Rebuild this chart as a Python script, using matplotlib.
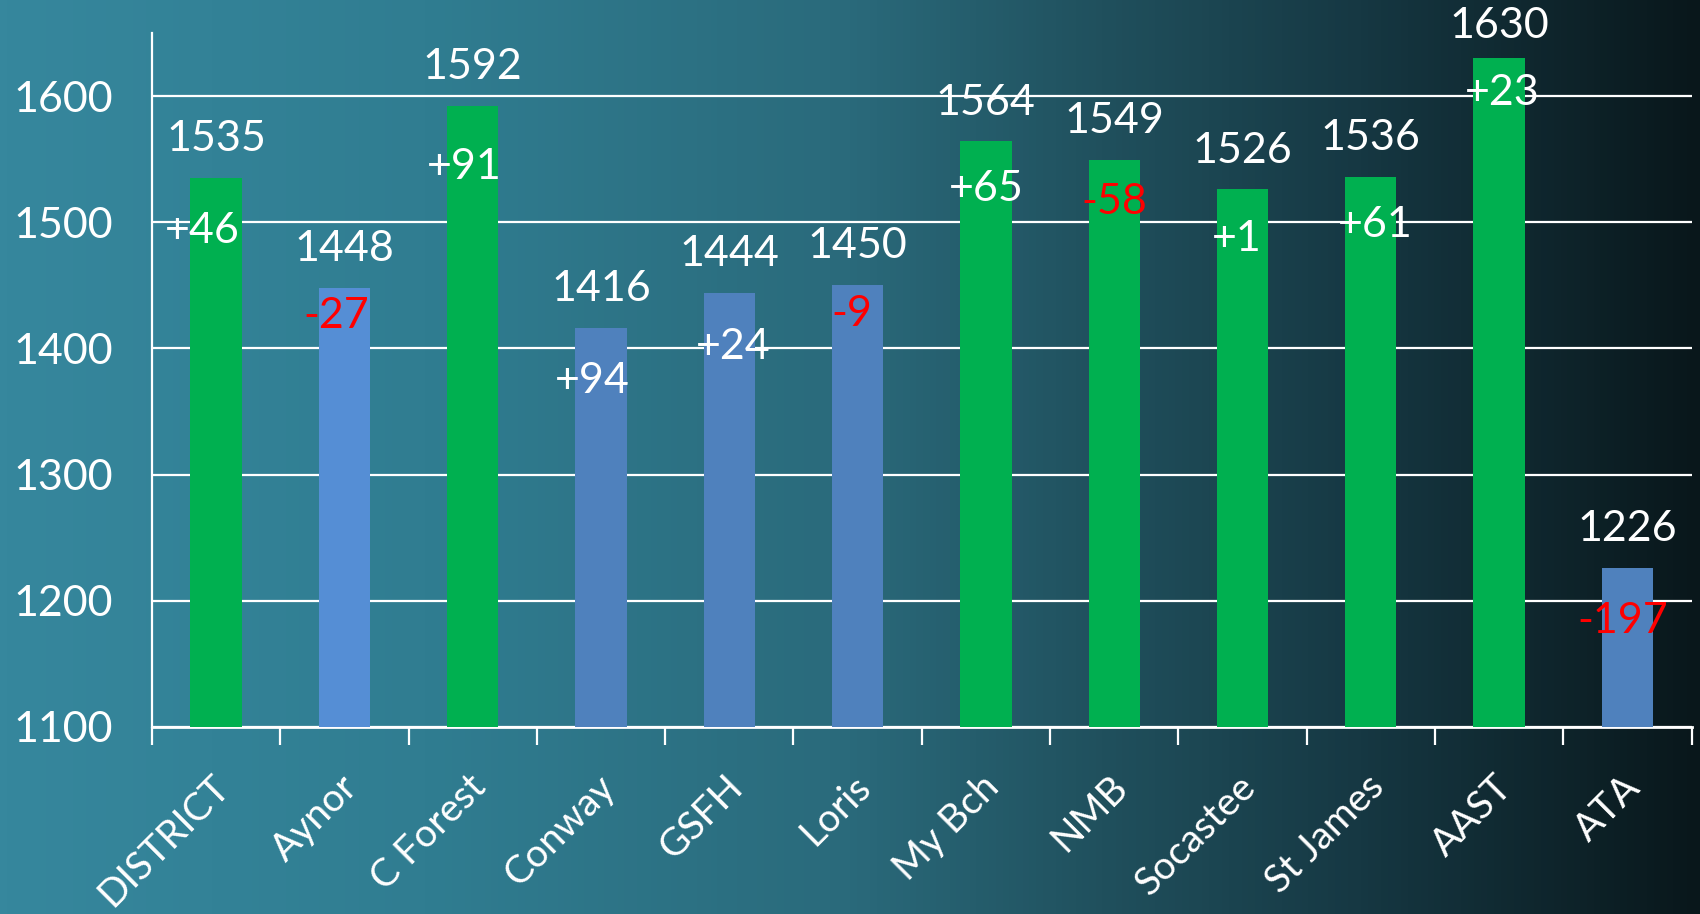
import numpy as np
import matplotlib as mpl; mpl.use('Agg')
import matplotlib.pyplot as plt
import matplotlib.transforms as mtransforms
from matplotlib.colors import LinearSegmentedColormap

mpl.rcParams['font.family'] = ['Lato', 'DejaVu Sans']

schools = ['DISTRICT', 'Aynor', 'C Forest', 'Conway', 'GSFH', 'Loris',
           'My Bch', 'NMB', 'Socastee', 'St James', 'AAST', 'ATA']
scores = [1535, 1448, 1592, 1416, 1444, 1450, 1564, 1549, 1526, 1536, 1630, 1226]
changes = [46, -27, 91, 94, 24, -9, 65, -58, 1, 61, 23, -197]
bar_kind = ['g', 'lb', 'g', 'b', 'b', 'b', 'g', 'g', 'g', 'g', 'g', 'b']

# label nudges (points) -- hand placed in the original
d_dx = [-10, -6, -6, -6, 3, -4, 0, 0, -4, 3, 2, -3]
d_dy = [-38, -20, -44, -38, -39, -21, -34, -30, -36, -35, -25, -38]
v_dy = [28, 28, 28, 28, 28, 28, 28, 28, 28, 28, 23, 28]

COL = {'g': '#00b050', 'lb': '#558ed5', 'b': '#4f81bd'}
WHITE = 'white'
FS = 31

fig = plt.figure(figsize=(17, 9.14), dpi=100)

# background gradient
bg = fig.add_axes([0, 0, 1, 1], zorder=-10)
cmap = LinearSegmentedColormap.from_list('bg', [(0.0, '#36879d'), (0.25, '#307d91'), (0.5, '#2a6a7b'),
                                                (0.65, '#20505d'), (0.8, '#163843'), (1.0, '#09171b')])
bg.imshow(np.linspace(0, 1, 512)[None, :], aspect='auto', cmap=cmap, extent=[0, 1, 0, 1])
bg.axis('off')

ax = fig.add_axes([0.0894, 0.2046, 0.9056, 0.7594])
ax.patch.set_alpha(0)
x = np.arange(len(schools))
ax.bar(x, [s - 1100 for s in scores], bottom=1100, width=0.40,
       color=[COL[k] for k in bar_kind], zorder=3)

ax.set_xlim(-0.5, len(schools) - 0.5)
ax.set_ylim(1100, 1650)
ax.set_yticks([1100, 1200, 1300, 1400, 1500, 1600])
ax.grid(axis='y', color=WHITE, lw=1.6, zorder=1)
for s in ['top', 'right']:
    ax.spines[s].set_visible(False)
ax.spines['left'].set_color(WHITE); ax.spines['left'].set_lw(1.6)
ax.spines['bottom'].set_color(WHITE); ax.spines['bottom'].set_lw(2.0)
ax.tick_params(axis='y', colors=WHITE, labelsize=FS, length=0, pad=28)

ax.set_xticks(np.arange(-0.5, len(schools)), minor=False)
ax.set_xticklabels([])
ax.tick_params(axis='x', which='major', colors=WHITE, length=13, width=1.6, direction='out')
ax.set_xticks(x, minor=True)
ax.set_xticklabels(schools, minor=True, rotation=45, ha='right', va='top',
                   rotation_mode='anchor', color=WHITE, fontsize=28)
ax.tick_params(axis='x', which='minor', length=0, pad=30)
shift = mtransforms.ScaledTranslation(-5 / 100, 0, fig.dpi_scale_trans)
for lab in ax.get_xticklabels(minor=True):
    lab.set_transform(lab.get_transform() + shift)

for i, (s, c) in enumerate(zip(scores, changes)):
    ax.annotate(str(s), (x[i], s), xytext=(0, v_dy[i]), textcoords='offset points',
                ha='center', va='center', color=WHITE, fontsize=FS, zorder=5)
    txt = f'+{c}' if c > 0 else f'-{abs(c)}'
    ax.annotate(txt, (x[i], s), xytext=(d_dx[i], d_dy[i]), textcoords='offset points',
                ha='center', va='center', color=WHITE if c > 0 else '#ff0000',
                fontsize=FS, zorder=5)

fig.savefig('out.png', dpi=100)
